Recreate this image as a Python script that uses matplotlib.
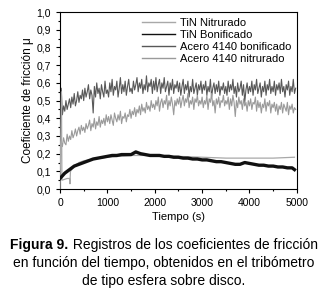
import matplotlib
matplotlib.use('Agg')
from matplotlib import pyplot as plt
from matplotlib.ticker import MultipleLocator

plt.rcParams['font.family'] = ['Liberation Sans', 'DejaVu Sans']

# Acero 4140 bonificado / nitrurado, sampled every 25 s (0..4975)
t_acero = list(range(0, 5000, 25))
acero_bonif = [
    0.40, 0.57, 0.42, 0.47, 0.44, 0.50, 0.45, 0.48, 0.51, 0.46, 0.52, 0.48, 0.54, 0.47, 0.50, 0.55, 0.49, 0.53, 0.51, 0.56,
    0.50, 0.57, 0.52, 0.55, 0.59, 0.51, 0.56, 0.53, 0.43, 0.58, 0.52, 0.60, 0.54, 0.57, 0.51, 0.59, 0.55, 0.52, 0.61, 0.54,
    0.56, 0.52, 0.60, 0.55, 0.62, 0.53, 0.58, 0.56, 0.61, 0.52, 0.57, 0.63, 0.54, 0.59, 0.55, 0.61, 0.53, 0.58, 0.62, 0.55,
    0.57, 0.54, 0.61, 0.56, 0.59, 0.63, 0.55, 0.60, 0.57, 0.62, 0.54, 0.59, 0.56, 0.64, 0.55, 0.60, 0.58, 0.62, 0.54, 0.61,
    0.56, 0.63, 0.55, 0.59, 0.62, 0.54, 0.60, 0.57, 0.63, 0.55, 0.58, 0.61, 0.53, 0.60, 0.56, 0.62, 0.54, 0.59, 0.57, 0.61,
    0.55, 0.60, 0.53, 0.58, 0.62, 0.54, 0.59, 0.56, 0.61, 0.52, 0.58, 0.55, 0.62, 0.54, 0.57, 0.60, 0.53, 0.59, 0.56, 0.61,
    0.54, 0.59, 0.56, 0.61, 0.53, 0.58, 0.55, 0.62, 0.52, 0.57, 0.60, 0.54, 0.59, 0.55, 0.61, 0.53, 0.58, 0.56, 0.60, 0.54,
    0.58, 0.53, 0.61, 0.55, 0.59, 0.56, 0.62, 0.54, 0.58, 0.52, 0.60, 0.55, 0.57, 0.61, 0.53, 0.59, 0.49, 0.56, 0.60, 0.54,
    0.58, 0.55, 0.61, 0.53, 0.59, 0.56, 0.62, 0.54, 0.57, 0.60, 0.52, 0.58, 0.55, 0.61, 0.53, 0.59, 0.56, 0.62, 0.54, 0.58,
    0.55, 0.61, 0.53, 0.59, 0.56, 0.60, 0.54, 0.62, 0.55, 0.58, 0.52, 0.59, 0.56, 0.61, 0.53, 0.58, 0.55, 0.62, 0.54, 0.57]
acero_nitr = [
    0.22, 0.27, 0.24, 0.29, 0.26, 0.25, 0.31, 0.27, 0.30, 0.28, 0.33, 0.29, 0.31, 0.34, 0.30, 0.33, 0.35, 0.31, 0.36, 0.33,
    0.35, 0.32, 0.37, 0.34, 0.36, 0.39, 0.33, 0.37, 0.35, 0.40, 0.34, 0.38, 0.36, 0.41, 0.35, 0.39, 0.37, 0.40, 0.36, 0.42,
    0.38, 0.41, 0.37, 0.42, 0.39, 0.36, 0.43, 0.40, 0.38, 0.42, 0.39, 0.44, 0.37, 0.41, 0.40, 0.43, 0.38, 0.42, 0.41, 0.45,
    0.40, 0.44, 0.42, 0.46, 0.41, 0.45, 0.43, 0.47, 0.42, 0.48, 0.44, 0.46, 0.43, 0.49, 0.45, 0.47, 0.44, 0.50, 0.46, 0.48,
    0.45, 0.50, 0.47, 0.52, 0.44, 0.49, 0.51, 0.46, 0.50, 0.48, 0.53, 0.45, 0.50, 0.47, 0.52, 0.48, 0.42, 0.50, 0.47, 0.51,
    0.48, 0.52, 0.46, 0.50, 0.53, 0.47, 0.51, 0.49, 0.54, 0.46, 0.50, 0.48, 0.52, 0.45, 0.51, 0.49, 0.53, 0.47, 0.50, 0.48,
    0.52, 0.46, 0.50, 0.48, 0.53, 0.45, 0.51, 0.49, 0.54, 0.47, 0.50, 0.43, 0.51, 0.48, 0.52, 0.46, 0.50, 0.49, 0.53, 0.47,
    0.50, 0.48, 0.52, 0.45, 0.51, 0.47, 0.53, 0.49, 0.41, 0.50, 0.46, 0.52, 0.48, 0.50, 0.45, 0.51, 0.47, 0.49, 0.44, 0.50,
    0.47, 0.51, 0.45, 0.49, 0.48, 0.52, 0.44, 0.50, 0.46, 0.49, 0.43, 0.48, 0.46, 0.51, 0.44, 0.49, 0.47, 0.50, 0.43, 0.48,
    0.46, 0.49, 0.44, 0.48, 0.42, 0.47, 0.45, 0.49, 0.43, 0.48, 0.46, 0.44, 0.49, 0.42, 0.47, 0.45, 0.48, 0.43, 0.46, 0.45]

# TiN Bonificado
t_tin_b = list(range(0, 5000, 100)) + [4950]
tin_bonif = [0.06, 0.09, 0.11, 0.13, 0.14, 0.15, 0.16, 0.17, 0.175, 0.18,
             0.185, 0.19, 0.19, 0.195, 0.195, 0.195, 0.21, 0.20, 0.195, 0.19,
             0.19, 0.19, 0.185, 0.185, 0.18, 0.18, 0.175, 0.175, 0.17, 0.17,
             0.165, 0.165, 0.16, 0.155, 0.155, 0.15, 0.145, 0.14, 0.14, 0.15,
             0.145, 0.14, 0.135, 0.135, 0.13, 0.13, 0.125, 0.125, 0.12, 0.12, 0.11]

# TiN Nitrurado
t_tin_n = [0, 30, 40, 150, 200, 210, 220, 300, 400, 500, 700, 1000, 1500,
           2000, 2500, 3000, 3500, 4000, 4500, 4950]
tin_nitr = [0.0, 0.55, 0.05, 0.06, 0.06, 0.03, 0.10, 0.13, 0.15, 0.16, 0.17,
            0.18, 0.19, 0.19, 0.185, 0.18, 0.175, 0.175, 0.175, 0.18]

labels = ["TiN Nitrurado", "TiN Bonificado", "Acero 4140 bonificado", "Acero 4140 nitrurado"]
yticks = [0.0, 0.1, 0.2, 0.3, 0.4, 0.5, 0.6, 0.7, 0.8, 0.9, 1.0]
xticks = [0, 1000, 2000, 3000, 4000, 5000]

fig = plt.figure(figsize=(3.28, 2.95), dpi=100)
ax = fig.add_axes([0.183, 0.359, 0.722, 0.6])

ax.plot(t_tin_n, tin_nitr, color='#a8a8a8', lw=0.9, label=labels[0], zorder=4)
ax.plot(t_tin_b, tin_bonif, color='#111111', lw=2.4, label=labels[1], zorder=5)
ax.plot(t_acero, acero_bonif, color='#585858', lw=0.8, label=labels[2], zorder=2)
ax.plot(t_acero, acero_nitr, color='#9a9a9a', lw=0.8, label=labels[3], zorder=3)

ax.set_xlim(0, 5000)
ax.set_ylim(0, 1.0)
ax.set_xticks(xticks)
ax.set_xticklabels([str(x) for x in xticks])
ax.set_yticks(yticks)
ax.set_yticklabels([("%.1f" % y).replace('.', ',') for y in yticks])
ax.xaxis.set_minor_locator(MultipleLocator(500))
ax.yaxis.set_minor_locator(MultipleLocator(0.05))
ax.tick_params(which='both', direction='out', labelsize=7.5, width=0.8)
ax.tick_params(which='major', length=3)
ax.tick_params(which='minor', length=1.5)
for s in ax.spines.values():
    s.set_linewidth(0.8)

ax.set_xlabel("Tiempo (s)", fontsize=8, labelpad=3)
ax.set_ylabel("Coeficiente de fricción μ", fontsize=8.5, labelpad=2)

leg = ax.legend(loc='upper right', frameon=False, fontsize=8, handlelength=3.0,
                handletextpad=0.4, labelspacing=0.2, borderaxespad=0.1)
for ln in leg.get_lines():
    ln.set_linewidth(1.0)

# caption: bold "Figura 9." followed by regular text on the same line
fs = 10
renderer = fig.canvas.get_renderer()
t1 = fig.text(0, 0.169, "Figura 9.", fontsize=fs, fontweight='bold', va='center')
t2 = fig.text(0, 0.169, " Registros de los coeficientes de fricción", fontsize=fs, va='center')
w1 = t1.get_window_extent(renderer).width
w2 = t2.get_window_extent(renderer).width
W = fig.bbox.width
x0 = (W - w1 - w2) / 2
t1.set_x(x0 / W)
t2.set_x((x0 + w1) / W)
fig.text(0.5, 0.108, "en función del tiempo, obtenidos en el tribómetro",
         fontsize=fs, ha='center', va='center')
fig.text(0.5, 0.047, "de tipo esfera sobre disco.", fontsize=fs, ha='center', va='center')

plt.savefig('out.png', dpi=100)
